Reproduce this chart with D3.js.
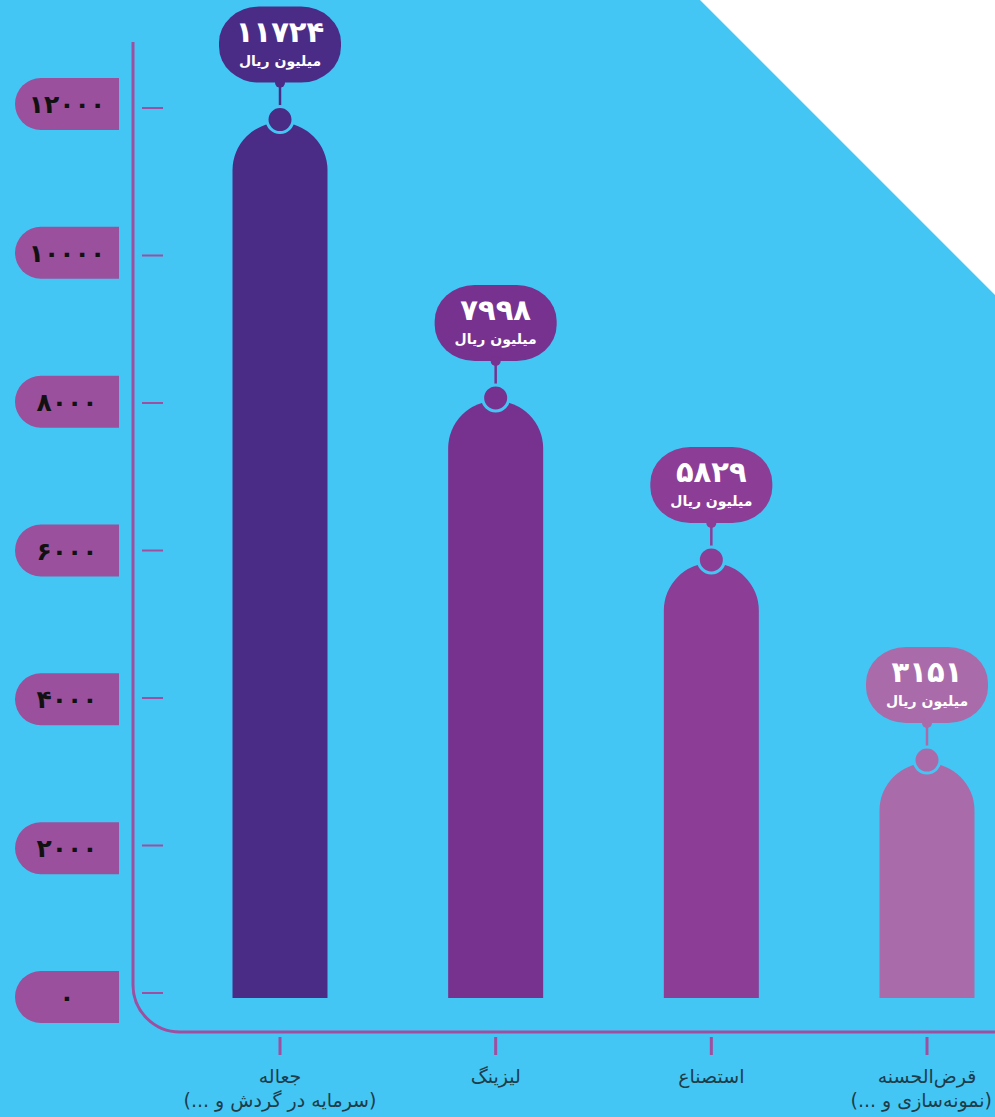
<!DOCTYPE html>
<html>
<head>
<meta charset="utf-8">
<script src="https://cdn.jsdelivr.net/npm/d3@7"></script>
<style>
  body { margin: 0; background: #43C6F4; }
  svg { display: block; }
</style>
</head>
<body>
<svg id="chart"></svg>
<script>
// data
var categories = ["جعاله", "لیزینگ", "استصناع", "قرض‌الحسنه"];
var subLabels = ["(سرمایه در گردش و ...)", "", "", "(نمونه‌سازی و ...)"];
var values = [11724, 7998, 5829, 3151];
var barColors = ["#4A2C86", "#77318F", "#8C3D96", "#AA6BAA"];
var yTicks = [0, 2000, 4000, 6000, 8000, 10000, 12000];
var unit = "میلیون ریال";

var width = 995;
var height = 1117;
var bg = "#43C6F4";
var axisColor = "#9E4FA0";
var pillColor = "#9A509C";

var faDigits = "۰۱۲۳۴۵۶۷۸۹";
var toFa = function(n)
{
  return String(n).replace(/[0-9]/g, function(c) { return faDigits[+c]; });
};

var svg = d3.select("#chart")
            .attr("width", width)
            .attr("height", height);

svg.append("rect")
   .attr("width", width)
   .attr("height", height)
   .attr("fill", bg);

// white corner
svg.append("path")
   .attr("d", "M700,0 L995,0 L995,295 Z")
   .attr("fill", "white");

var x = d3.scalePoint()
          .domain(categories)
          .range([280, 927]);

var yTick = d3.scaleLinear().domain([0, 12000]).range([993, 108]);
var yPill = d3.scaleLinear().domain([0, 12000]).range([997, 104]);
var yBar = d3.scaleLinear().domain([0, 12000]).range([995.4, 99]);

var barW = 95;
var r = barW / 2;
var barBottom = 998;

// axis frame: vertical line curving into the bottom line
var ax = 133, axTop = 42, axBottom = 1032, rad = 47;
svg.append("path")
   .attr("d", "M" + ax + "," + axTop + " L" + ax + "," + (axBottom - rad) +
              " A" + rad + "," + rad + " 0 0 0 " + (ax + rad) + "," + axBottom +
              " L" + width + "," + axBottom)
   .attr("fill", "none")
   .attr("stroke", axisColor)
   .attr("stroke-width", 3);

// y ticks
svg.selectAll(".ytick")
   .data(yTicks)
   .enter()
   .append("line")
   .attr("x1", 142)
   .attr("x2", 163)
   .attr("y1", function(d) { return yTick(d); })
   .attr("y2", function(d) { return yTick(d); })
   .attr("stroke", axisColor)
   .attr("stroke-width", 2);

// y labels in pills
var pills = svg.selectAll(".pill")
               .data(yTicks)
               .enter()
               .append("g");

pills.append("path")
     .attr("d", function(d)
     {
       var cy = yPill(d);
       return "M119," + (cy - 26) + " L41," + (cy - 26) +
              " A26,26 0 0 0 41," + (cy + 26) + " L119," + (cy + 26) + " Z";
     })
     .attr("fill", pillColor);

pills.append("text")
     .text(function(d) { return toFa(d); })
     .attr("x", 67)
     .attr("y", function(d) { return yPill(d) + 9; })
     .attr("text-anchor", "middle")
     .attr("font-family", "DejaVu Sans")
     .attr("font-weight", "bold")
     .attr("font-size", 25)
     .attr("letter-spacing", -1)
     .attr("fill", "#111");

// x ticks and labels
svg.selectAll(".xtick")
   .data(categories)
   .enter()
   .append("line")
   .attr("x1", function(d) { return x(d); })
   .attr("x2", function(d) { return x(d); })
   .attr("y1", 1037)
   .attr("y2", 1055)
   .attr("stroke", axisColor)
   .attr("stroke-width", 3);

var labels = svg.selectAll(".xlabel")
                .data(categories)
                .enter()
                .append("text")
                .attr("text-anchor", "middle")
                .attr("direction", "rtl")
                .attr("font-family", "DejaVu Sans")
                .attr("font-size", 19)
                .attr("fill", "#1E3C4A");

labels.append("tspan")
      .attr("x", function(d) { return x(d); })
      .attr("y", 1083)
      .text(function(d) { return d; });

labels.append("tspan")
      .attr("x", function(d) { return x(d); })
      .attr("y", 1107)
      .text(function(d, i) { return subLabels[i]; });

// keep the last label inside the page
labels.selectAll("tspan")
      .attr("x", function()
      {
        var cx = +d3.select(this).attr("x");
        var half = this.getComputedTextLength() / 2;
        return Math.min(cx, width - half - 3);
      });

// bars with round tops
var bars = svg.selectAll(".bar")
              .data(values)
              .enter()
              .append("g");

bars.append("path")
    .attr("d", function(d, i)
    {
      var cx = x(categories[i]);
      var top = yBar(d) + 3;
      return "M" + (cx - r) + "," + barBottom + " L" + (cx - r) + "," + (top + r) +
             " A" + r + "," + r + " 0 0 1 " + (cx + r) + "," + (top + r) +
             " L" + (cx + r) + "," + barBottom + " Z";
    })
    .attr("fill", function(d, i) { return barColors[i]; });

// connector line
bars.append("line")
    .attr("x1", function(d, i) { return x(categories[i]); })
    .attr("x2", function(d, i) { return x(categories[i]); })
    .attr("y1", function(d) { return yBar(d) - 37; })
    .attr("y2", function(d) { return yBar(d) - 12; })
    .attr("stroke", function(d, i) { return barColors[i]; })
    .attr("stroke-width", 2.5);

// knob on top of bar
bars.append("circle")
    .attr("cx", function(d, i) { return x(categories[i]); })
    .attr("cy", function(d) { return yBar(d); })
    .attr("r", 13)
    .attr("fill", function(d, i) { return barColors[i]; })
    .attr("stroke", bg)
    .attr("stroke-width", 3);

// value bubble
bars.append("rect")
    .attr("x", function(d, i) { return x(categories[i]) - 61; })
    .attr("y", function(d) { return yBar(d) - 113; })
    .attr("width", 122)
    .attr("height", 76)
    .attr("rx", 40)
    .attr("ry", 36)
    .attr("fill", function(d, i) { return barColors[i]; });

bars.append("circle")
    .attr("cx", function(d, i) { return x(categories[i]); })
    .attr("cy", function(d) { return yBar(d) - 37; })
    .attr("r", 5)
    .attr("fill", function(d, i) { return barColors[i]; });

bars.append("text")
    .text(function(d) { return toFa(d); })
    .attr("x", function(d, i) { return x(categories[i]); })
    .attr("y", function(d) { return yBar(d) - 78; })
    .attr("text-anchor", "middle")
    .attr("font-family", "DejaVu Sans")
    .attr("font-weight", "bold")
    .attr("font-size", 29)
    .attr("fill", "white");

bars.append("text")
    .text(unit)
    .attr("x", function(d, i) { return x(categories[i]); })
    .attr("y", function(d) { return yBar(d) - 54; })
    .attr("text-anchor", "middle")
    .attr("direction", "rtl")
    .attr("font-family", "DejaVu Sans")
    .attr("font-weight", "bold")
    .attr("font-size", 14)
    .attr("fill", "white");
</script>
</body>
</html>
